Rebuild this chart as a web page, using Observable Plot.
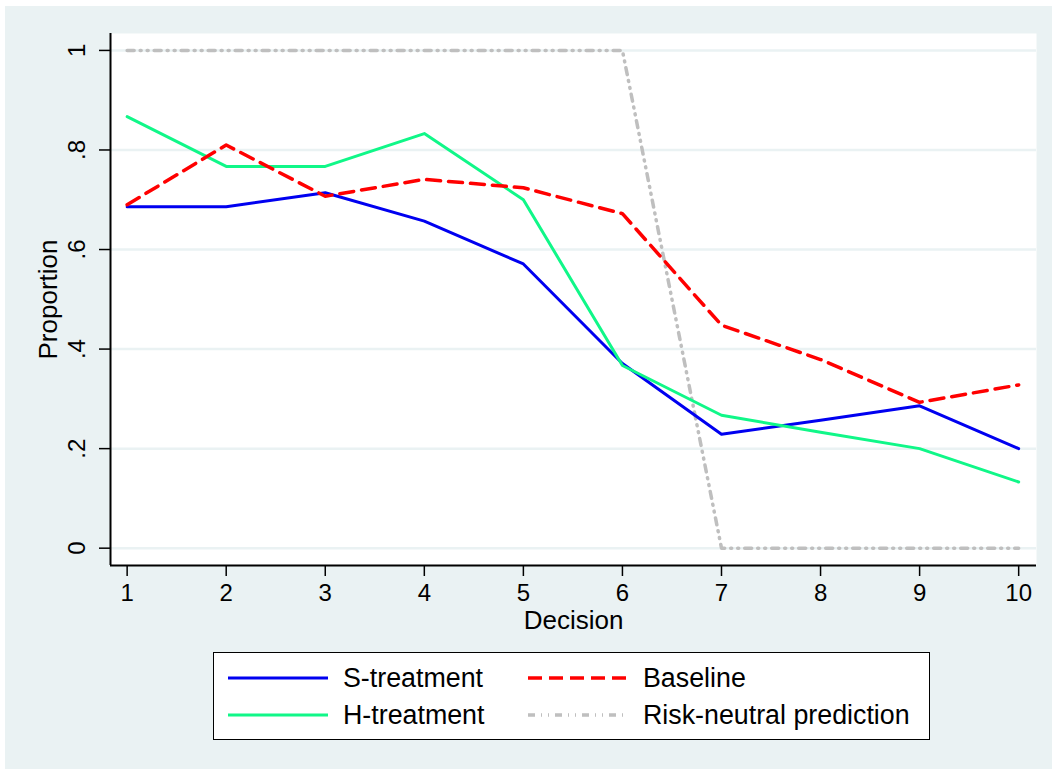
<!DOCTYPE html>
<html>
<head>
<meta charset="utf-8">
<script src="https://cdn.jsdelivr.net/npm/d3@7"></script>
<script src="https://cdn.jsdelivr.net/npm/@observablehq/plot@0.6"></script>
<style>
  html, body { margin: 0; padding: 0; background: #ffffff; }
  #page { position: absolute; left: 5px; top: 6px; width: 1047px; height: 763px; background: #EAF2F3; }
  #chart { position: absolute; left: 0; top: 0; }
  #legend { position: absolute; left: 213px; top: 652px; width: 715px; height: 86px; background: #fff;
            border: 1.5px solid #000; font-family: "Liberation Sans", Arial, sans-serif; font-size: 26.8px; color: #000; }
  .lt { position: absolute; line-height: 1; transform: translateY(-50%); white-space: nowrap; }
  .ls { position: absolute; }
</style>
</head>
<body>
<div id="page"></div>
<div id="chart"></div>
<div id="legend"></div>
<script>
const decisions = [1, 2, 3, 4, 5, 6, 7, 8, 9, 10];
const sTreatment = [0.686, 0.686, 0.714, 0.657, 0.571, 0.371, 0.229, 0.257, 0.286, 0.200];
const hTreatment = [0.867, 0.767, 0.767, 0.833, 0.700, 0.367, 0.267, 0.233, 0.200, 0.133];
const baseline   = [0.690, 0.810, 0.707, 0.741, 0.724, 0.672, 0.448, 0.379, 0.293, 0.328];
const riskNeutral = [1, 1, 1, 1, 1, 1, 0, 0, 0, 0];
const yTicks = [0, 0.2, 0.4, 0.6, 0.8, 1];
const yTickLabels = ["0", ".2", ".4", ".6", ".8", "1"];
const seriesNames = ["S-treatment", "H-treatment", "Baseline", "Risk-neutral prediction"];
const seriesColors = ["#0000F0", "#10F788", "#FF0000", "#BFBFBF"];

const rows = (vals) => decisions.map((d, i) => ({ x: d, y: vals[i] }));
const font = "'Liberation Sans', Arial, sans-serif";

const chart = Plot.plot({
  width: 1052,
  height: 640,
  marginLeft: 110,
  marginRight: 16,
  marginTop: 33,
  marginBottom: 75,
  style: { background: "transparent", fontFamily: font, color: "#000", overflow: "visible" },
  x: { domain: [0.832, 10.18] },
  y: { domain: [-0.0348, 1.034] },
  marks: [
    Plot.frame({ fill: "white", stroke: null }),
    Plot.ruleY(yTicks, { stroke: "#EAF2F3", strokeWidth: 2.5 }),
    Plot.line(rows(riskNeutral), { x: "x", y: "y", stroke: seriesColors[3], strokeWidth: 3.5, strokeDasharray: "7,6,1,6,1,6" }),
    Plot.line(rows(sTreatment), { x: "x", y: "y", stroke: seriesColors[0], strokeWidth: 3 }),
    Plot.line(rows(hTreatment), { x: "x", y: "y", stroke: seriesColors[1], strokeWidth: 3 }),
    Plot.line(rows(baseline), { x: "x", y: "y", stroke: seriesColors[2], strokeWidth: 3.5, strokeDasharray: "14,8" }),
    Plot.axisX({ ticks: decisions, tickSize: 11, tickPadding: 7, fontSize: 24, strokeWidth: 1.5, label: null }),
    Plot.axisY({ ticks: yTicks, tickSize: 11, tickFormat: () => "", strokeWidth: 1.5, label: null }),
    Plot.text(yTicks, { y: d => d, text: (d, i) => yTickLabels[i], frameAnchor: "left", dx: -33, rotate: -90,
      textAnchor: "middle", lineAnchor: "middle", fontSize: 24, fill: "#000" }),
    Plot.ruleX([0.832], { stroke: "#000", strokeWidth: 2 }),
    Plot.ruleY([-0.0348], { stroke: "#000", strokeWidth: 2 }),
    Plot.text(["Decision"], { frameAnchor: "bottom", dy: 55, fontSize: 26, fill: "#000", lineAnchor: "middle" }),
    Plot.text(["Proportion"], { frameAnchor: "left", dx: -62, rotate: -90, fontSize: 26, fill: "#000",
      textAnchor: "middle", lineAnchor: "middle" })
  ]
});
document.getElementById("chart").appendChild(chart);

// Legend
const legend = document.getElementById("legend");
const items = [
  { name: seriesNames[0], color: seriesColors[0], dash: null, w: 3, lx: 14, ty: 25 },
  { name: seriesNames[2], color: seriesColors[2], dash: "14,7", w: 3.5, lx: 314, ty: 25 },
  { name: seriesNames[1], color: seriesColors[1], dash: null, w: 3, lx: 14, ty: 62 },
  { name: seriesNames[3], color: seriesColors[3], dash: "7,6,1,6,1,6", w: 3.5, lx: 314, ty: 62 }
];
items.forEach(it => {
  const svg = document.createElementNS("http://www.w3.org/2000/svg", "svg");
  svg.setAttribute("class", "ls");
  svg.setAttribute("width", 100);
  svg.setAttribute("height", 10);
  svg.style.left = it.lx + "px";
  svg.style.top = (it.ty - 5) + "px";
  const ln = document.createElementNS("http://www.w3.org/2000/svg", "line");
  ln.setAttribute("x1", 0); ln.setAttribute("x2", 100);
  ln.setAttribute("y1", 5); ln.setAttribute("y2", 5);
  ln.setAttribute("stroke", it.color);
  ln.setAttribute("stroke-width", it.w);
  if (it.dash) ln.setAttribute("stroke-dasharray", it.dash);
  svg.appendChild(ln);
  legend.appendChild(svg);
  const t = document.createElement("div");
  t.className = "lt";
  t.textContent = it.name;
  t.style.left = (it.lx + 115) + "px";
  t.style.top = it.ty + "px";
  legend.appendChild(t);
});
</script>
</body>
</html>
